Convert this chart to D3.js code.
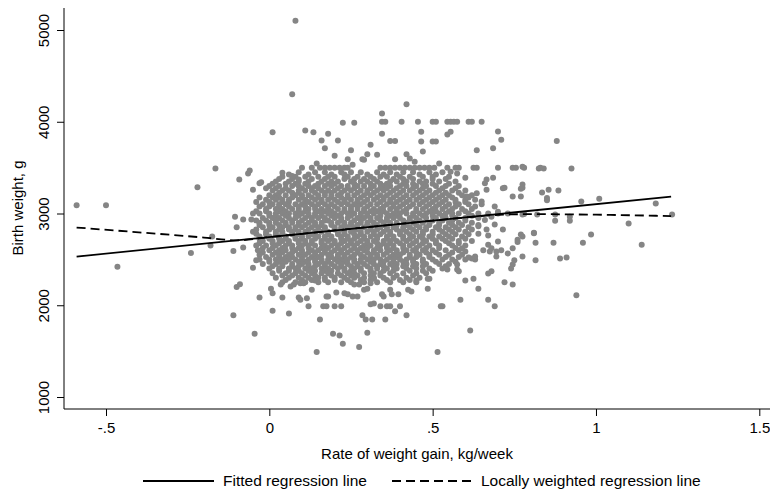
<!DOCTYPE html>
<html>
<head>
<meta charset="utf-8">
<script src="https://cdn.jsdelivr.net/npm/d3@7"></script>
<style>
  body { margin: 0; background: #fff; }
  text { font-family: Arial, "Liberation Sans", sans-serif; }
</style>
</head>
<body>
<div id="chart"></div>
<script>
// Chart size
const width = 770;
const height = 493;

// Axis ticks
const gainTicks = [-0.5, 0, 0.5, 1, 1.5];
const gainTickLabels = ["-.5", "0", ".5", "1", "1.5"];
const weightTicks = [1000, 2000, 3000, 4000, 5000];

// Dense part of the cloud, read row by row: [birth weight g, gains in hundredths of kg/week]
const cloudRows = [
  [3450, [9, 14, 17, 22, 25, 28, 33, 37, 41, 44, 49, 53]],
  [3425, [6, 12, 19, 23, 30, 35, 39, 46, 51]],
  [3400, [4, 8, 11, 15, 18, 20, 24, 27, 31, 34, 36, 40, 43, 47, 50, 55]],
  [3375, [3, 7, 13, 17, 23, 26, 29, 32, 38, 41, 44, 50, 54]],
  [3350, [2, 6, 9, 12, 16, 19, 21, 25, 28, 30, 33, 37, 39, 42, 46, 48, 52, 57]],
  [3325, [1, 5, 8, 11, 15, 18, 20, 26, 31, 34, 36, 41, 44, 47, 50, 55]],
  [3300, [0, 3, 7, 9, 12, 14, 17, 19, 22, 24, 27, 29, 32, 35, 37, 40, 42, 45, 48, 51, 54, 58]],
  [3275, [-1, 2, 5, 10, 13, 15, 21, 24, 26, 31, 34, 36, 39, 44, 47, 53, 57]],
  [3250, [1, 4, 6, 9, 11, 13, 16, 18, 20, 23, 25, 28, 30, 33, 35, 38, 41, 43, 46, 49, 52, 56, 60]],
  [3225, [3, 7, 9, 14, 17, 19, 22, 27, 30, 32, 37, 40, 45, 48, 51, 54, 58]],
  [3200, [0, 2, 5, 8, 10, 12, 15, 17, 19, 21, 24, 26, 29, 31, 34, 36, 39, 42, 44, 47, 50, 53, 55, 59, 62]],
  [3175, [-3, 1, 3, 7, 10, 13, 15, 19, 22, 24, 28, 33, 35, 38, 41, 46, 49, 52, 56, 61]],
  [3150, [-1, 2, 4, 6, 9, 11, 14, 16, 18, 20, 23, 25, 27, 30, 32, 35, 37, 40, 43, 45, 48, 51, 54, 57, 60, 63]],
  [3125, [-4, 0, 4, 6, 11, 12, 16, 21, 23, 27, 29, 34, 37, 39, 42, 47, 50, 53, 57, 60]],
  [3100, [-2, 1, 3, 5, 8, 10, 13, 15, 17, 19, 22, 24, 26, 28, 31, 33, 36, 38, 41, 44, 46, 49, 52, 55, 58, 61, 65]],
  [3075, [-3, 0, 3, 6, 9, 11, 14, 18, 20, 25, 27, 30, 35, 38, 40, 43, 48, 51, 54, 57, 63]],
  [3050, [-1, 2, 4, 7, 9, 12, 14, 16, 18, 21, 23, 25, 27, 29, 32, 34, 37, 39, 42, 45, 47, 50, 53, 56, 59, 62]],
  [3025, [-4, -1, 3, 5, 9, 11, 15, 17, 19, 23, 25, 29, 31, 33, 35, 39, 41, 45, 49, 51, 55, 60]],
  [3000, [-5, -3, 0, 2, 4, 6, 8, 10, 12, 14, 16, 18, 20, 22, 24, 26, 28, 30, 32, 34, 36, 38, 40, 42, 44, 46, 48, 50, 52, 54, 56, 58, 61, 64, 67, 70, 73]],
  [2975, [0, 2, 5, 9, 12, 14, 16, 19, 21, 25, 28, 30, 34, 37, 39, 44, 47, 50, 53, 56, 62]],
  [2950, [-2, 1, 3, 6, 8, 11, 13, 15, 17, 20, 22, 24, 27, 29, 31, 33, 36, 38, 40, 43, 45, 48, 51, 54, 57, 60, 64]],
  [2925, [-4, -1, 2, 4, 7, 10, 13, 17, 18, 22, 26, 28, 31, 34, 36, 41, 43, 46, 50, 53, 56, 60]],
  [2900, [-3, 0, 2, 5, 7, 9, 12, 14, 16, 19, 21, 23, 25, 28, 30, 32, 35, 37, 39, 42, 44, 47, 49, 52, 55, 58, 62]],
  [2875, [-3, 0, 3, 5, 9, 11, 14, 16, 19, 23, 25, 27, 30, 33, 35, 39, 42, 45, 49, 52, 56, 59, 64]],
  [2850, [-2, 1, 4, 6, 8, 10, 13, 15, 17, 20, 22, 24, 26, 29, 31, 34, 36, 38, 41, 43, 46, 48, 51, 54, 57, 61]],
  [2825, [-4, 0, 3, 6, 8, 12, 15, 17, 20, 22, 26, 27, 31, 33, 36, 39, 41, 44, 48, 52, 55, 58, 62]],
  [2800, [-5, -1, 2, 4, 7, 9, 11, 14, 16, 18, 21, 23, 25, 28, 30, 32, 35, 37, 40, 42, 45, 47, 50, 53, 56, 60]],
  [2775, [-1, 2, 4, 7, 9, 13, 14, 18, 21, 23, 26, 28, 32, 34, 37, 40, 43, 47, 50, 54, 57, 61]],
  [2750, [-3, 0, 3, 5, 8, 10, 12, 15, 17, 19, 22, 24, 27, 29, 31, 33, 36, 38, 41, 44, 46, 49, 52, 55, 59]],
  [2725, [-3, 0, 3, 5, 8, 10, 14, 17, 19, 22, 24, 26, 29, 33, 36, 38, 41, 43, 47, 50, 53, 56, 60]],
  [2700, [-2, 1, 4, 6, 9, 11, 13, 16, 18, 20, 23, 25, 28, 30, 32, 35, 37, 39, 42, 45, 48, 51, 54, 58, 62]],
  [2675, [-3, 1, 3, 6, 9, 11, 13, 16, 20, 22, 25, 27, 30, 33, 35, 37, 40, 44, 47, 51, 55, 58]],
  [2650, [-4, -1, 2, 5, 7, 10, 12, 14, 17, 19, 21, 24, 26, 29, 31, 34, 36, 38, 41, 43, 46, 49, 52, 56, 60]],
  [2625, [-2, 1, 4, 7, 9, 12, 16, 18, 21, 23, 26, 28, 30, 33, 36, 38, 41, 45, 48, 52, 57]],
  [2600, [0, 3, 5, 8, 10, 13, 15, 17, 20, 22, 25, 27, 29, 32, 34, 37, 39, 42, 44, 47, 50, 54, 58]],
  [2575, [-2, 2, 4, 7, 10, 12, 14, 17, 19, 22, 24, 27, 30, 32, 36, 39, 41, 45, 48, 51, 56]],
  [2550, [-3, 1, 3, 6, 9, 11, 14, 16, 18, 21, 23, 26, 28, 31, 33, 35, 38, 40, 43, 46, 49, 52, 55, 59]],
  [2525, [-1, 3, 5, 7, 10, 13, 15, 19, 21, 23, 25, 29, 31, 33, 37, 39, 43, 45, 49, 54, 58]],
  [2500, [-3, 0, 2, 4, 6, 8, 10, 12, 14, 16, 18, 20, 22, 24, 26, 28, 30, 32, 34, 36, 38, 40, 42, 44, 47, 50, 53, 56, 60, 63]],
  [2475, [0, 3, 5, 9, 11, 14, 16, 18, 21, 23, 26, 28, 31, 35, 38, 41, 44, 47, 51, 57]],
  [2450, [-2, 2, 4, 7, 10, 12, 15, 17, 19, 22, 24, 27, 29, 32, 34, 37, 39, 42, 45, 48, 52, 55]],
  [2425, [1, 4, 7, 9, 12, 14, 17, 20, 22, 25, 27, 30, 33, 35, 38, 41, 44, 47, 54]],
  [2400, [0, 3, 6, 8, 11, 13, 16, 18, 21, 23, 26, 28, 31, 33, 36, 39, 42, 45, 49, 53]],
  [2375, [3, 6, 9, 12, 14, 17, 19, 23, 25, 28, 31, 35, 38, 43, 47, 50]],
  [2350, [1, 5, 8, 10, 13, 16, 18, 21, 24, 26, 29, 32, 34, 37, 41, 45, 48]],
  [2325, [4, 7, 11, 14, 19, 22, 25, 27, 31, 34, 39, 44]],
  [2300, [2, 6, 9, 12, 15, 17, 20, 23, 26, 29, 32, 35, 38, 42, 46]],
  [2275, [5, 10, 13, 17, 20, 24, 28, 31, 36, 40, 43]],
  [2250, [4, 8, 11, 15, 18, 22, 25, 29, 33, 37, 41, 45]]
];

// Scattered points outside the dense part: [gain kg/week, birth weight g]
const outerPoints = [
  [-0.59, 3090], [-0.50, 3090], [-0.465, 2420], [-0.24, 2570], [-0.22, 3285], [-0.18, 2650],
  [-0.175, 2750], [-0.165, 3490], [-0.11, 2590], [-0.08, 2630], [-0.035, 2600], [-0.04, 2490],
  [-0.05, 2410], [-0.10, 2200], [-0.09, 2230], [-0.03, 2085], [-0.11, 1890], [-0.045, 1690],
  [-0.105, 2965], [-0.10, 2850], [-0.08, 2935], [-0.055, 2935], [-0.04, 2780], [-0.092, 3370],
  [-0.065, 3435], [-0.06, 3470], [-0.03, 3330], [-0.05, 3260], [-0.025, 3340],
  [0.01, 1940], [0.01, 2130], [0.005, 2180], [0.035, 2225], [0.04, 2085], [0.06, 1910],
  [0.09, 2085], [0.095, 2060], [0.115, 2075], [0.12, 1990], [0.065, 2205], [0.075, 2225],
  [0.095, 2240], [0.105, 2240], [0.13, 2170], [0.14, 2270], [0.155, 1845], [0.145, 1490],
  [0.165, 1990], [0.175, 1990], [0.175, 2095], [0.18, 2095], [0.195, 1690], [0.215, 1670],
  [0.225, 1580], [0.20, 1990], [0.22, 1990], [0.205, 2140], [0.23, 2130], [0.255, 2095],
  [0.27, 2095], [0.275, 1545], [0.285, 1890], [0.295, 1845], [0.30, 1700], [0.315, 1845],
  [0.32, 2020], [0.515, 1490], [0.615, 1725], [0.355, 1845], [0.42, 1890], [0.385, 1935],
  [0.525, 1990], [0.53, 1990], [0.31, 2010], [0.34, 1990], [0.36, 1990], [0.37, 1990],
  [0.40, 1990], [0.345, 2120], [0.35, 2095], [0.37, 2170], [0.375, 2120], [0.395, 2120],
  [0.24, 2120], [0.26, 2225], [0.275, 2225], [0.29, 2170], [0.30, 2180], [0.31, 2240],
  [0.32, 2290], [0.425, 2170], [0.435, 2150], [0.45, 2270], [0.485, 2180], [0.485, 2290],
  [0.49, 2290], [0.545, 2390], [0.575, 2390], [0.58, 2370], [0.575, 2445], [0.60, 2270],
  [0.625, 2290], [0.64, 2180], [0.585, 2060], [0.67, 2060], [0.69, 1990], [0.67, 2345],
  [0.68, 2370], [0.72, 2250], [0.745, 2225], [0.74, 2400], [0.745, 2445], [0.75, 2490],
  [0.67, 2660], [0.675, 2585], [0.695, 2585], [0.71, 2600], [0.695, 2530], [0.655, 2600],
  [0.63, 2530], [0.62, 2510], [0.61, 2520], [0.60, 2585], [0.59, 2620],
  [0.60, 3390], [0.665, 3370], [0.685, 3390], [0.77, 3270], [0.745, 3185], [0.665, 3260],
  [0.72, 3280], [0.635, 3220], [0.605, 3185], [0.69, 3075], [0.70, 3020], [0.78, 2995],
  [0.775, 2750], [0.76, 2715], [0.81, 2785], [0.64, 2860], [0.665, 2825], [0.715, 2825],
  [0.70, 2695], [0.68, 2620], [0.73, 2565], [0.745, 2620], [0.775, 2530], [0.555, 3455],
  [0.575, 3435], [0.66, 3330], [0.715, 3275], [0.775, 3315], [0.66, 2930], [0.69, 2880],
  [0.67, 2760], [0.64, 2780], [0.65, 3130], [0.68, 2965],
  [0.01, 3885], [0.04, 3445], [0.07, 3410], [0.09, 3370], [0.145, 3545], [0.11, 3905],
  [0.135, 3885], [0.18, 3870], [0.16, 3795], [0.21, 3795], [0.17, 3710], [0.20, 3630],
  [0.25, 3690], [0.31, 3750], [0.30, 3645], [0.285, 3590], [0.255, 3530], [0.29, 3585],
  [0.24, 3590], [0.33, 3640], [0.385, 3590], [0.42, 3645], [0.43, 3600], [0.445, 3565],
  [0.47, 3675], [0.52, 3545], [0.635, 3690], [0.685, 3710], [0.70, 3895], [0.71, 3805],
  [0.345, 3870], [0.37, 3790], [0.385, 3790], [0.465, 3890], [0.50, 3785], [0.545, 3860],
  [0.555, 3890], [0.465, 3785], [0.51, 3785],
  [0.08, 5100], [0.07, 4300], [0.345, 4090], [0.42, 4190],
  [0.225, 3990], [0.26, 3990], [0.345, 4000], [0.355, 4000], [0.405, 4000], [0.455, 4000],
  [0.50, 4000], [0.51, 4000], [0.545, 4000], [0.555, 4000], [0.565, 4000], [0.575, 4000],
  [0.61, 4000], [0.62, 4000], [0.65, 4000],
  [0.10, 3500], [0.13, 3500], [0.155, 3500], [0.17, 3500], [0.185, 3500], [0.20, 3500],
  [0.215, 3500], [0.23, 3500], [0.24, 3500], [0.34, 3500], [0.355, 3500], [0.37, 3500],
  [0.385, 3500], [0.40, 3500], [0.415, 3500], [0.43, 3500], [0.445, 3500], [0.46, 3500],
  [0.475, 3500], [0.49, 3500], [0.505, 3500], [0.545, 3500], [0.57, 3500], [0.58, 3500],
  [0.625, 3500], [0.635, 3500], [0.70, 3500], [0.745, 3500], [0.755, 3500], [0.78, 3500],
  [0.83, 3500], [0.775, 3510], [0.825, 3490], [0.84, 3490], [0.925, 3490],
  [0.88, 3790], [0.775, 3280], [0.77, 3185], [0.835, 3230], [0.855, 3260], [0.885, 3250],
  [0.85, 3170], [0.85, 3145], [0.955, 3130], [1.01, 3160], [1.183, 3110], [1.233, 2990],
  [0.775, 2990], [0.82, 2990], [0.875, 2990], [0.92, 2965], [0.875, 2920], [0.92, 2920],
  [1.10, 2890], [0.77, 2770], [0.81, 2790], [0.815, 2680], [0.87, 2680], [0.96, 2680],
  [0.985, 2770], [1.14, 2660], [0.815, 2490], [0.89, 2510], [0.91, 2520], [0.94, 2110],
  [0.76, 2690]
];

// Fitted regression line (end points)
const fitGain = [-0.59, 1.23];
const fitWeight = [2531, 3185];

// Locally weighted regression line
const lowessGain = [-0.59, -0.4, -0.2, -0.1, 0, 0.1, 0.2, 0.3, 0.4, 0.5, 0.6, 0.7, 0.8, 1.0, 1.23];
const lowessWeight = [2847, 2795, 2738, 2708, 2742, 2779, 2815, 2851, 2887, 2922, 2956, 2985, 2993, 2987, 2972];

const legendLabels = ["Fitted regression line", "Locally weighted regression line"];

// Build the point list
const points = [];
cloudRows.forEach(([w, gains]) => gains.forEach(g => points.push({ gain: g / 100, weight: w })));
outerPoints.forEach(([g, w]) => points.push({ gain: g, weight: w }));

const svg = d3.select("#chart")
  .append("svg")
  .attr("width", width)
  .attr("height", height);

// Scales
const x = d3.scaleLinear().domain([-0.5, 1.5]).range([106, 759.3]);
const y = d3.scaleLinear().domain([1000, 5000]).range([397, 30]);

const plotLeft = 64, plotBottom = 409, plotTop = 8;

// Points
svg.append("g")
  .selectAll("circle")
  .data(points)
  .enter()
  .append("circle")
  .attr("cx", d => x(d.gain))
  .attr("cy", d => y(d.weight))
  .attr("r", 3)
  .attr("fill", "#858585");

// Lines
const line = d3.line().x(d => x(d[0])).y(d => y(d[1]));

svg.append("path")
  .datum(fitGain.map((g, i) => [g, fitWeight[i]]))
  .attr("d", line)
  .attr("fill", "none")
  .attr("stroke", "#000")
  .attr("stroke-width", 1.8);

svg.append("path")
  .datum(lowessGain.map((g, i) => [g, lowessWeight[i]]))
  .attr("d", line.curve(d3.curveMonotoneX))
  .attr("fill", "none")
  .attr("stroke", "#000")
  .attr("stroke-width", 1.8)
  .attr("stroke-dasharray", "9,5");

// Axes
const xAxis = svg.append("g")
  .attr("transform", `translate(0,${plotBottom})`)
  .call(d3.axisBottom(x).tickValues(gainTicks).tickFormat((d, i) => gainTickLabels[i]).tickSize(7).tickPadding(6));
xAxis.select(".domain").remove();

const yAxis = svg.append("g")
  .attr("transform", `translate(${plotLeft},0)`)
  .call(d3.axisLeft(y).tickValues(weightTicks).tickSize(7).tickFormat(d3.format("d")));
yAxis.select(".domain").remove();
yAxis.selectAll(".tick text")
  .attr("transform", "rotate(-90)")
  .attr("x", 0)
  .attr("y", -15)
  .attr("dy", "0")
  .attr("text-anchor", "middle");

svg.selectAll(".tick line").attr("stroke", "#000");
svg.selectAll(".tick text").attr("font-size", "15px").attr("fill", "#000");

svg.append("line")
  .attr("x1", plotLeft).attr("x2", width)
  .attr("y1", plotBottom).attr("y2", plotBottom)
  .attr("stroke", "#000");
svg.append("line")
  .attr("x1", plotLeft).attr("x2", plotLeft)
  .attr("y1", plotTop).attr("y2", plotBottom)
  .attr("stroke", "#000");

// Axis titles
svg.append("text")
  .attr("x", 417)
  .attr("y", 459)
  .attr("text-anchor", "middle")
  .attr("font-size", "15px")
  .text("Rate of weight gain, kg/week");

svg.append("text")
  .attr("transform", `translate(23,208) rotate(-90)`)
  .attr("text-anchor", "middle")
  .attr("font-size", "15px")
  .text("Birth weight, g");

// Legend
const legend = svg.append("g").attr("transform", "translate(0,481)");
legend.append("line").attr("x1", 143).attr("x2", 214).attr("y1", 0).attr("y2", 0)
  .attr("stroke", "#000").attr("stroke-width", 1.8);
legend.append("text").attr("x", 223).attr("y", 5).attr("font-size", "15.5px").text(legendLabels[0]);
legend.append("line").attr("x1", 392).attr("x2", 472).attr("y1", 0).attr("y2", 0)
  .attr("stroke", "#000").attr("stroke-width", 1.8).attr("stroke-dasharray", "9,5");
legend.append("text").attr("x", 481).attr("y", 5).attr("font-size", "15.5px").text(legendLabels[1]);
</script>
</body>
</html>
